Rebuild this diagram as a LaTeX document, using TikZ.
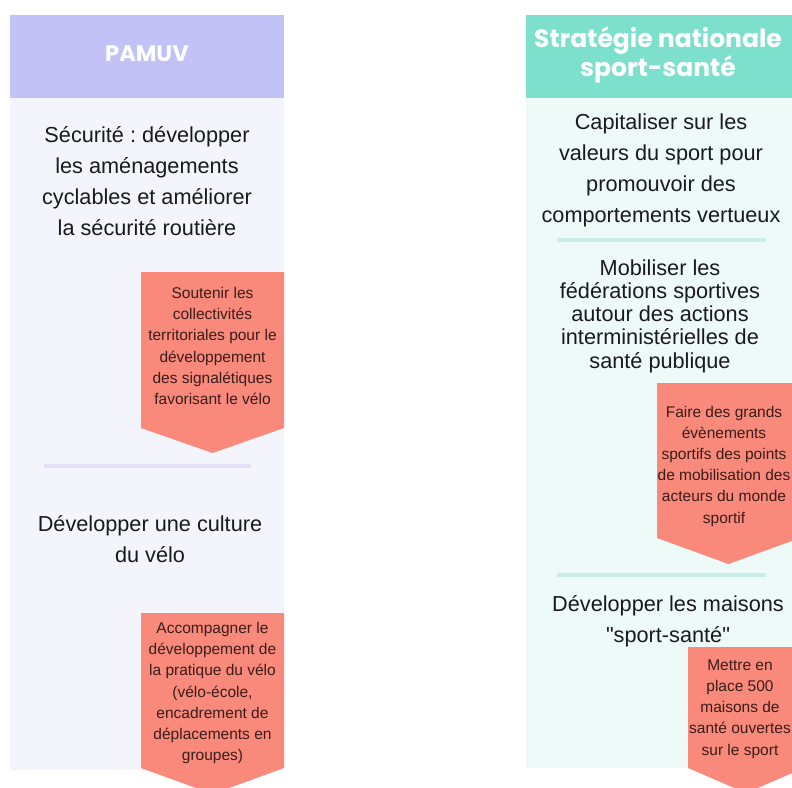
\documentclass[tikz,border=0pt]{standalone}
\usepackage{fontspec}
\setmainfont{Liberation Sans}
\newfontfamily\headfont{Poppins}
\frenchspacing
\newcommand\dquote{\XeTeXglyph\XeTeXcharglyph"22\relax}
\definecolor{lavhead}{HTML}{C3C2F6}
\definecolor{lavbody}{HTML}{F4F4FC}
\definecolor{lavline}{HTML}{E1E0F8}
\definecolor{tealhead}{HTML}{7DE0CC}
\definecolor{tealbody}{HTML}{EEFAF7}
\definecolor{tealline}{HTML}{C5EEE6}
\definecolor{salmon}{HTML}{F98A7B}
\definecolor{pinktext}{HTML}{3A1C1A}
\definecolor{bodytext}{HTML}{1A1A1A}
\tikzset{
  headtxt/.style={text=white, align=center, font=\headfont\bfseries},
  maintxt/.style={text=bodytext, align=center, font=\fontsize{21.7}{31}\selectfont, inner sep=0pt},
  pinktxt/.style={text=pinktext, align=center, font=\fontsize{15.5}{21.2}\selectfont, inner sep=0pt},
  divider/.style={line width=3.5pt},
}
\begin{document}
\begin{tikzpicture}[x=1pt,y=-1pt]
\useasboundingbox (0,0) rectangle (792,787);
\clip (0,0) rectangle (792,787);
% left column
\fill[lavbody] (10,98) rectangle (284,770);
\fill[lavhead] (10,15) rectangle (284,98);
\node[headtxt, font=\headfont\bfseries\fontsize{22.5}{24}\selectfont] (pamuv) at (147,54) {PAMUV};
\node[maintxt] (secu) at (147,181) {Sécurité : développer\\les aménagements\\cyclables et améliorer\\la sécurité routière};
\fill[salmon] (141,272) -- (284,272) -- (284,428) -- (212.5,453) -- (141,428) -- cycle;
\node[pinktxt] (soutenir) at (212.5,346) {Soutenir les\\collectivités\\territoriales pour le\\développement\\des signalétiques\\favorisant le vélo};
\draw[divider, lavline] (44,466) -- (251,466);
\node[maintxt] (culture) at (150,539) {Développer une culture\\du vélo};
\fill[salmon] (141,613) -- (284,613) -- (284,768) -- (212.5,794) -- (141,768) -- cycle;
\node[pinktxt] (accomp) at (212.5,693) {Accompagner le\\développement de\\la pratique du vélo\\(vélo-école,\\encadrement de\\déplacements en\\groupes)};
% right column
\fill[tealbody] (526,98) rectangle (792,768);
\fill[tealhead] (526,15) rectangle (792,98);
\node[headtxt, font=\headfont\bfseries\fontsize{25}{19}\selectfont] (snss) at (658,55) {Stratégie nationale\\sport-santé};
\node[maintxt] (capital) at (661,170) {Capitaliser sur les\\valeurs du sport pour\\promouvoir des\\comportements vertueux};
\draw[divider, tealline] (557,240) -- (766,240);
\node[maintxt, font=\fontsize{21.7}{23.2}\selectfont] (mobil) at (660,316) {Mobiliser les\\fédérations sportives\\autour des actions\\interministérielles de\\santé publique};
\fill[salmon] (657,383) -- (800,383) -- (800,538) -- (728.5,564) -- (657,538) -- cycle;
\node[pinktxt] (faire) at (724,466) {Faire des grands\\évènements\\sportifs des points\\de mobilisation des\\acteurs du monde\\sportif};
\draw[divider, tealline] (557,575) -- (766,575);
\node[maintxt] (maisons) at (668,621) {Développer les maisons\\\dquote sport-santé\dquote};
\fill[salmon] (688,647) -- (804,647) -- (804,768) -- (746,793) -- (688,768) -- cycle;
\node[pinktxt] (mettre) at (740,709) {Mettre en\\place 500\\maisons de\\santé ouvertes\\sur le sport};
\end{tikzpicture}
\end{document}
